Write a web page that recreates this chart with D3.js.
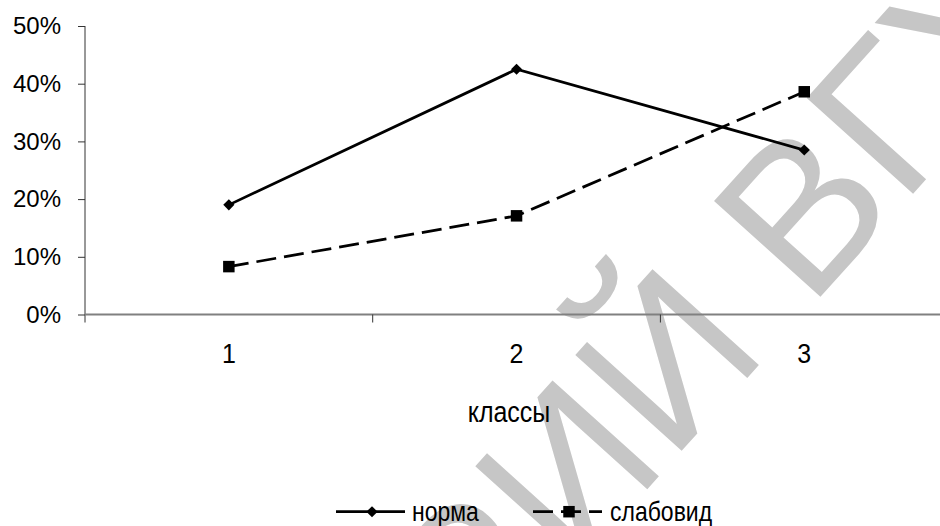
<!DOCTYPE html>
<html><head><meta charset="utf-8">
<script src="https://cdn.jsdelivr.net/npm/d3@7/dist/d3.min.js"></script>
<style>body{margin:0;background:#fff} svg{display:block}</style>
</head><body><svg id="c" width="940" height="526"></svg>
<script>
// ---- data ----
const categories = ["1", "2", "3"];
const normaValues = [0.19, 0.425, 0.285];
const slabovidValues = [0.083, 0.171, 0.386];
const yTickValues = [0, 0.1, 0.2, 0.3, 0.4, 0.5];
const seriesNames = ["норма", "слабовид"];
const xAxisTitle = "классы";
const watermarkHead = "РЕПОЗИТОРИЙ";
const watermarkTail = "ВГУ";

// ---- layout ----
const FONT = "'Liberation Sans', Arial, sans-serif";
const svg = d3.select("#c");
const plotLeft = 85, plotTop = 26, plotBottom = 314.5, band = 287.7;
const x = d3.scaleBand().domain(categories).range([plotLeft, plotLeft + band * categories.length]).padding(0);
const y = d3.scaleLinear().domain([0, 0.5]).range([plotBottom, plotTop]);
const cx = c => x(c) + x.bandwidth() / 2;

// ---- watermark ----
const wm = svg.append("g")
  .attr("transform", "translate(809,309.5) rotate(-48)")
  .attr("fill", "#c6c6c6")
  .style("font-family", FONT).style("font-size", "208px");
wm.append("text").attr("x", 0).attr("y", 0).text(watermarkTail);
wm.append("text").attr("x", -57.8).attr("y", 0).attr("text-anchor", "end").text(watermarkHead);

// ---- y axis ----
const yAxis = svg.append("g").attr("transform", `translate(${plotLeft},0)`)
  .call(d3.axisLeft(y).tickValues(yTickValues).tickFormat(d3.format(".0%")).tickSize(7).tickPadding(17));
yAxis.select(".domain").attr("d", `M0,${plotTop}V${plotBottom + 8}`).attr("stroke", "#333");
yAxis.selectAll(".tick line").attr("stroke", "#333");
yAxis.selectAll(".tick text").style("font-family", FONT).style("font-size", "24px").attr("fill", "#000");

// ---- x axis ----
const xg = svg.append("g");
xg.append("line").attr("x1", plotLeft).attr("x2", x.range()[1]).attr("y1", plotBottom).attr("y2", plotBottom)
  .attr("stroke", "#808080").attr("stroke-width", 2);
const bounds = categories.map(c => x(c)).concat([x.range()[1]]).slice(1);
xg.selectAll("line.tk").data(bounds).join("line").attr("class", "tk")
  .attr("x1", d => d).attr("x2", d => d).attr("y1", plotBottom).attr("y2", plotBottom + 8)
  .attr("stroke", "#333");
xg.selectAll("text.cat").data(categories).join("text").attr("class", "cat")
  .attr("transform", d => `translate(${cx(d)},363) scale(1,1.08)`)
  .attr("text-anchor", "middle").style("font-family", FONT).style("font-size", "25px").text(d => d);
svg.append("text").attr("transform", `translate(509,422.3) scale(1,1.18)`)
  .attr("text-anchor", "middle")
  .style("font-family", FONT).style("font-size", "25px").text(xAxisTitle);

// ---- series ----
const series = [
  { name: seriesNames[0], values: normaValues, dash: null, marker: "diamond" },
  { name: seriesNames[1], values: slabovidValues, dash: "20,8", marker: "square" }
];
const line = d3.line().x(d => cx(d.c)).y(d => y(d.v));
const diamond = d3.symbol().type(d3.symbolSquare).size(62);
const square = d3.symbol().type(d3.symbolSquare).size(132);
function drawMarker(g, type, px, py) {
  if (type === "diamond") {
    g.append("path").attr("d", diamond()).attr("transform", `translate(${px},${py}) rotate(45)`).attr("fill", "#000");
  } else {
    g.append("path").attr("d", square()).attr("transform", `translate(${px},${py})`).attr("fill", "#000");
  }
}
series.forEach(s => {
  const pts = categories.map((c, i) => ({ c, v: s.values[i] }));
  const g = svg.append("g");
  g.append("path").datum(pts).attr("d", line).attr("fill", "none").attr("stroke", "#000")
    .attr("stroke-width", 2.75).attr("stroke-dasharray", s.dash);
  pts.forEach(p => drawMarker(g, s.marker, cx(p.c), y(p.v)));
});

// ---- legend ----
const legendItems = [
  { s: series[0], x1: 336, x2: 405, tx: 412 },
  { s: series[1], x1: 533, x2: 602, tx: 610 }
];
const lg = svg.append("g");
legendItems.forEach(it => {
  lg.append("line").attr("x1", it.x1).attr("x2", it.x2).attr("y1", 511.7).attr("y2", 511.7)
    .attr("stroke", "#000").attr("stroke-width", 2.75).attr("stroke-dasharray", it.s.dash);
  drawMarker(lg, it.s.marker, (it.x1 + it.x2) / 2 + 1.5, 511.7);
  lg.append("text").attr("transform", `translate(${it.tx},520.5) scale(1,1.2)`)
    .style("font-family", FONT).style("font-size", "23px").text(it.s.name);
});
</script></body></html>
